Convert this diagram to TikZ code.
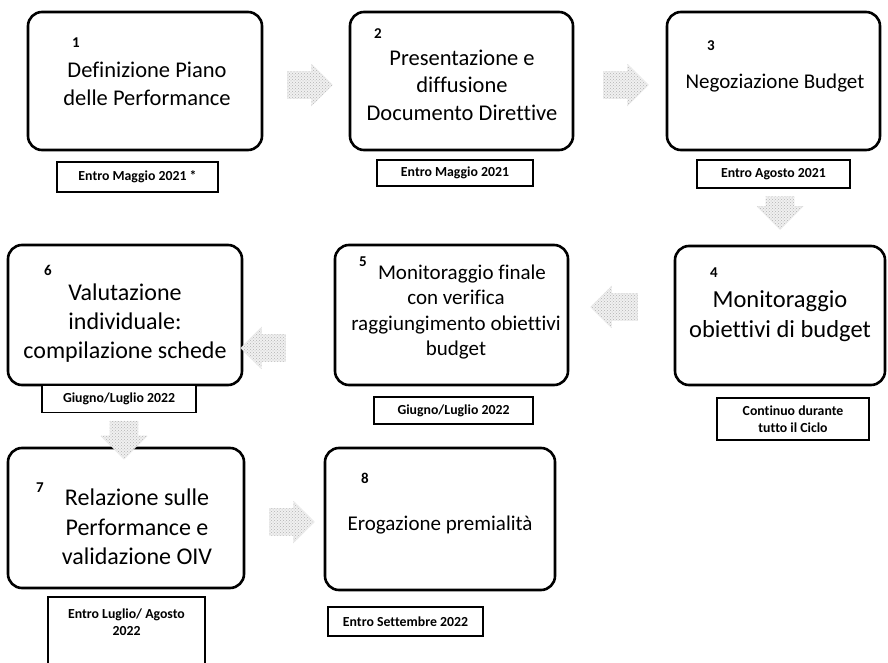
\documentclass[tikz,border=0pt]{standalone}
\usepackage{fontspec}
\setmainfont{Carlito}[Ligatures=NoCommon]
\usetikzlibrary{shapes.arrows, patterns}
\tikzstyle{phase}=[draw, line width=2.6pt, rounded corners=14pt, inner sep=0pt]
\tikzstyle{descr}=[align=center, inner sep=0pt]
\tikzstyle{num}=[inner sep=0pt, font=\fontsize{15}{15}\selectfont\bfseries]
\tikzstyle{deadline}=[draw, line width=1.1pt, fill=white, inner sep=0pt, align=center, font=\fontsize{13.8}{16.5}\selectfont\bfseries]
\tikzstyle{flow}=[single arrow, single arrow head extend=7pt, preaction={fill=gray!12}, pattern=crosshatch dots, pattern color=gray!60, draw=gray!40, densely dotted]
\tikzstyle{hflow}=[inner xsep=0pt, inner ysep=13.5pt]
\tikzstyle{vflow}=[inner xsep=14pt, inner ysep=0pt, single arrow head extend=9pt]
\newcommand{\phase}{\node[phase]}
\newcommand{\boxfont}[1]{\fontsize{#1}{1.22\dimexpr #1pt\relax}\selectfont}

\begin{document}
\begin{tikzpicture}[x=1pt, y=-1pt]
\useasboundingbox[fill=white] (0,0) rectangle (888,663);
%boxes
\phase[minimum width=234pt, minimum height=138pt] (b1) at (145,81){};
\phase[minimum width=223pt, minimum height=138pt] (b2) at (461.5,81){};
\phase[minimum width=213pt, minimum height=138pt] (b3) at (773.5,81){};
\phase[minimum width=210pt, minimum height=139pt] (b4) at (780,315.5){};
\phase[minimum width=233pt, minimum height=140pt] (b5) at (451.5,315){};
\phase[minimum width=234pt, minimum height=140pt] (b6) at (125,315){};
\phase[minimum width=236pt, minimum height=140pt] (b7) at (126,518){};
\phase[minimum width=230pt, minimum height=142pt] (b8) at (440,519){};
%texts
\node[descr, font=\boxfont{22.5}] (t1) at (147,84){Definizione Piano\\delle Performance};
\node[descr, font=\boxfont{22.5}] (t2) at (462,85){Presentazione e\\diffusione\\Documento Direttive};
\node[descr, font=\boxfont{21}] (t3) at (775,83){Negoziazione Budget};
\node[descr, font=\boxfont{24.5}] (t4) at (780,316){Monitoraggio\\obiettivi di budget};
\node[descr, font=\boxfont{21}] (t5) at (456,312){\hspace*{12pt}Monitoraggio finale\\con verifica\\raggiungimento obiettivi\\budget};
\node[descr, font=\boxfont{24}] (t6) at (125,323){Valutazione\\individuale:\\compilazione schede};
\node[descr, font=\boxfont{24}] (t7) at (137,527){Relazione sulle\\Performance e\\validazione OIV};
\node[descr, font=\boxfont{21}] (t8) at (440,525){Erogazione premialità};
%numbers
\foreach \i/\x/\y in {1/76/43, 2/378/34, 3/711/46, 4/714/273, 5/363/262, 6/48/270, 7/40/488, 8/365/478}{
	\node[num] (n\i) at (\x,\y){\i};}
%dates
\node[deadline, minimum width=161pt, minimum height=30pt] (d1) at (137.5,177){Entro Maggio 2021 *};
\node[deadline, minimum width=156pt, minimum height=26pt] (d2) at (455,173){Entro Maggio 2021};
\node[deadline, minimum width=153pt, minimum height=28pt] (d3) at (773.5,174){Entro Agosto 2021};
\node[deadline, minimum width=152pt, minimum height=42pt] (d4) at (793,419){Continuo durante\\tutto il Ciclo};
\node[deadline, minimum width=159pt, minimum height=27pt] (d5) at (453.5,410.5){Giugno/Luglio 2022};
\node[deadline, minimum width=154pt, minimum height=27pt] (d6) at (119,399){Giugno/Luglio 2022};
\node[deadline, minimum width=157pt, minimum height=80pt] (d7) at (126.5,637){};
\node[deadline, draw=none, fill=none] (d7t) at (126.5,622){Entro Luglio/ Agosto\\2022};
\node[deadline, minimum width=155pt, minimum height=29pt] (d8) at (405.5,621.5){Entro Settembre 2022};
%arrows
\foreach \n/\x/\y/\r/\l/\s in {a12/303/85/0/45/hflow, a23/619/85/0/45/hflow, a34/780/206/270/33/vflow, a45/621/307/180/47/hflow, a56/270/348/180/45/hflow, a67/124/433/270/38/vflow, a78/285/522/0/45/hflow}{
	\node[flow, \s, shape border rotate=\r, minimum height=\l pt] (\n) at (\x,\y){};}
\end{tikzpicture}
\end{document}
